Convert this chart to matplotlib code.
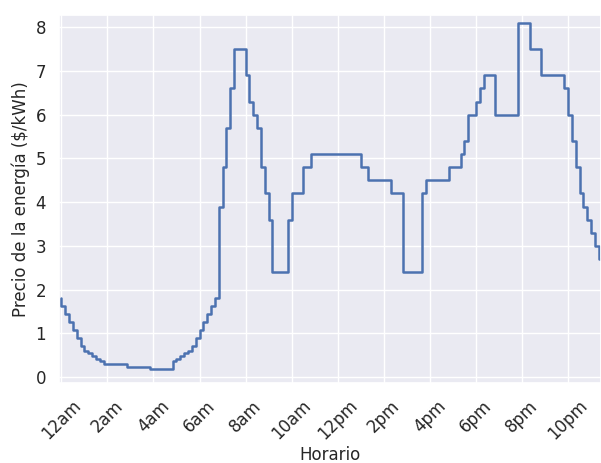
import matplotlib
matplotlib.use("Agg")
import matplotlib.pyplot as plt
import seaborn as sns

sns.set_theme(style="darkgrid")

# Precio inicial y cambios de precio (minuto del día, precio después del cambio)
precio_inicial = 1.8
cambios_min = [0, 10, 20, 30, 40, 50, 60, 70, 80, 90, 100, 110,
               170, 230, 290, 300, 310, 320, 330, 340, 350, 360, 370, 380,
               390, 400, 410, 420, 430, 440, 450, 480, 490, 500, 510, 520,
               530, 540, 550, 590, 600, 630, 650, 780, 800, 860, 890, 940,
               950, 1010, 1040, 1050, 1060, 1080, 1090, 1100, 1130, 1190,
               1220, 1250, 1310, 1320, 1330, 1340, 1350, 1360, 1370, 1380,
               1390, 1400]
niveles = [1.62, 1.44, 1.26, 1.08, 0.9, 0.72, 0.6, 0.54, 0.48, 0.42, 0.36, 0.3,
           0.24, 0.18, 0.36, 0.42, 0.48, 0.54, 0.6, 0.72, 0.9, 1.08, 1.26, 1.44,
           1.62, 1.8, 3.9, 4.8, 5.7, 6.6, 7.5, 6.9, 6.3, 6.0, 5.7, 4.8,
           4.2, 3.6, 2.4, 3.6, 4.2, 4.8, 5.1, 4.8, 4.5, 4.2, 2.4, 4.2,
           4.5, 4.8, 5.1, 5.4, 6.0, 6.3, 6.6, 6.9, 6.0, 8.1,
           7.5, 6.9, 6.6, 6.0, 5.4, 4.8, 4.2, 3.9, 3.6, 3.3,
           3.0, 2.7]
fin_min = 1420

tick_horas = [0, 2, 4, 6, 8, 10, 12, 14, 16, 18, 20, 22]
tick_labels = ['12am', '2am', '4am', '6am', '8am', '10am',
               '12pm', '2pm', '4pm', '6pm', '8pm', '10pm']

x = [m / 60 for m in [0] + cambios_min + [fin_min]]
y = [precio_inicial] + niveles + [niveles[-1]]

fig = plt.figure(figsize=(6.01, 4.63), dpi=100)
ax = fig.add_axes([0.0987, 0.172, 0.9013, 0.7956])

ax.step(x, y, where='post', color='#4c72b0', linewidth=1.8)

ax.set_xlim(-0.087, 23.43)
ax.set_ylim(-0.144, 8.28)
ax.set_xticks(tick_horas)
ax.set_xticklabels(tick_labels, rotation=45)
ax.set_yticks(range(0, 9))
ax.tick_params(labelsize=12)
ax.set_xlabel('Horario', fontsize=12, labelpad=2)
ax.set_ylabel('Precio de la energía ($/kWh)', fontsize=12)

fig.savefig('out.png', dpi=100)
